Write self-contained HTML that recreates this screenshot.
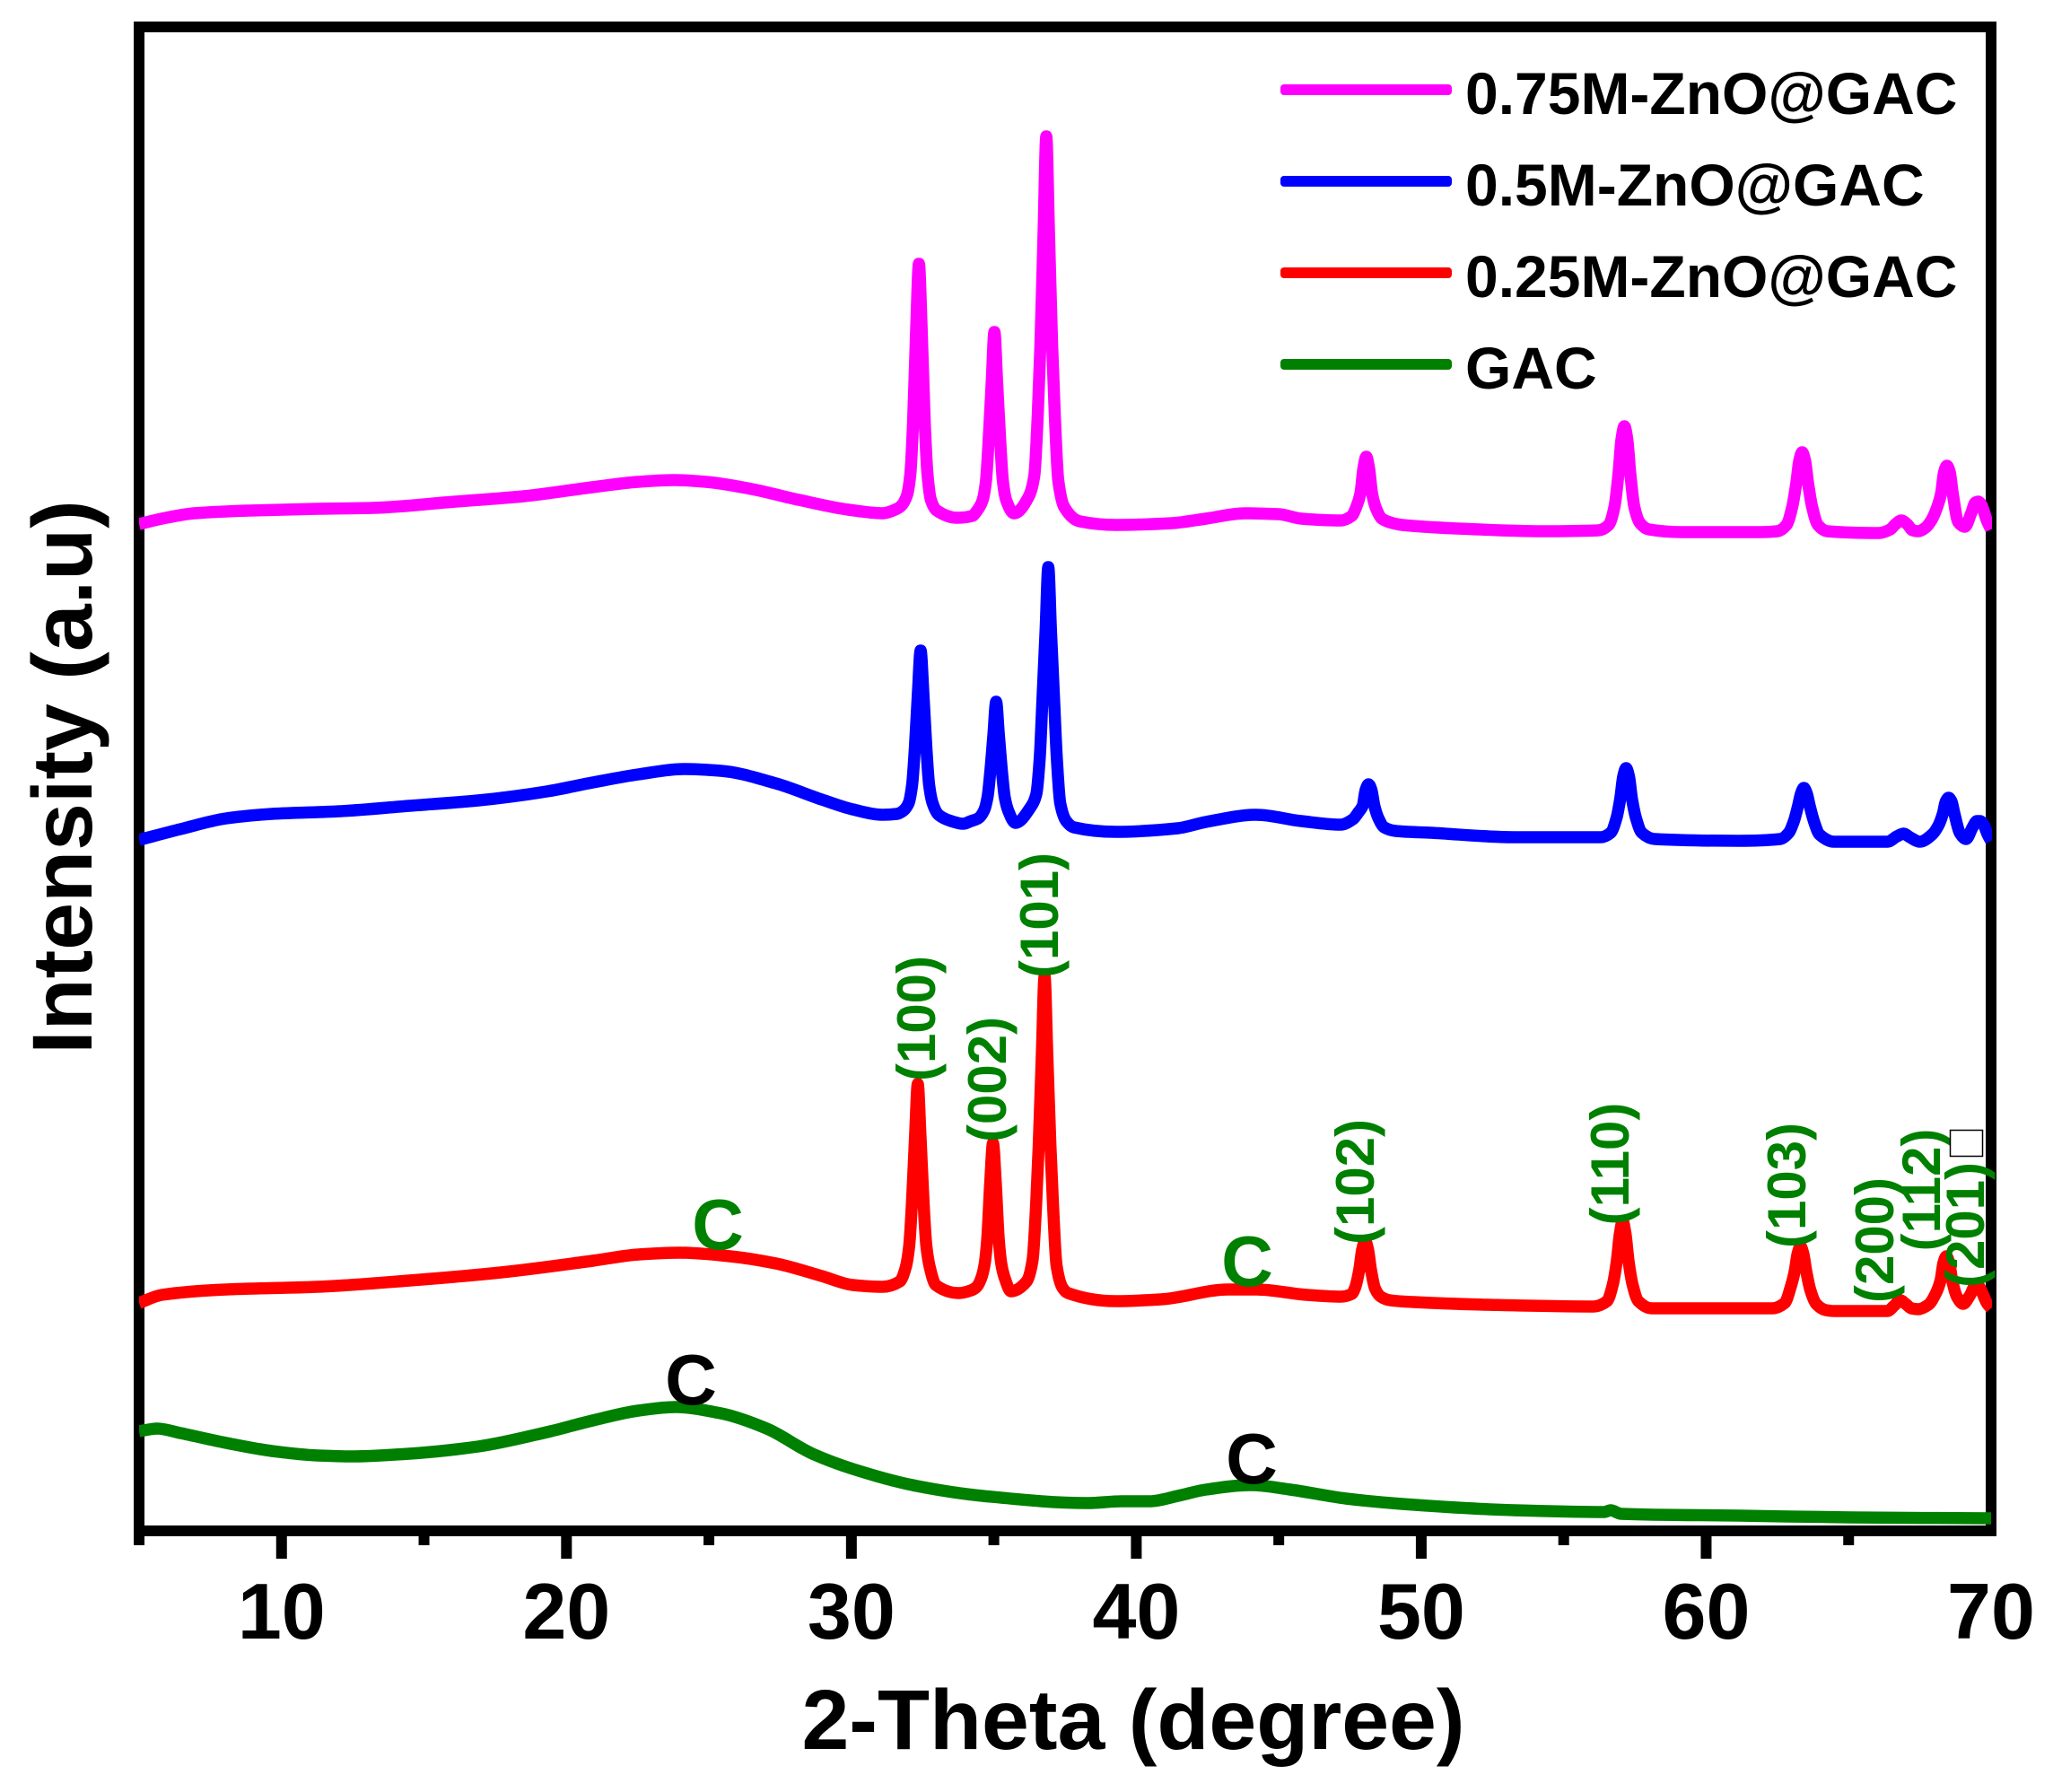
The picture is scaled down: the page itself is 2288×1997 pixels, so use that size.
<!DOCTYPE html>
<html>
<head>
<meta charset="utf-8">
<title>XRD patterns of ZnO@GAC</title>
<style>
html,body{margin:0;padding:0;background:#fff;}
svg{display:block;}
text{font-family:"Liberation Sans",Arial,sans-serif;font-weight:bold;}
</style>
</head>
<body>
<svg id="chart" xmlns="http://www.w3.org/2000/svg" width="2288" height="1997" viewBox="0 0 2288 1997">
  <rect x="0" y="0" width="2288" height="1997" fill="#ffffff"/>
  <defs>
    <clipPath id="plot-clip"><rect x="155" y="24" width="2065" height="1688"/></clipPath>
  </defs>
  <g id="frame" fill="#000">
    <rect x="149" y="24" width="2076" height="12"/>
    <rect x="149" y="24" width="12" height="1688"/>
    <rect x="2213" y="24" width="12" height="1688"/>
    <rect x="149" y="1700" width="2076" height="12"/>
  </g>
  <g id="ticks"></g>
  <g id="series" clip-path="url(#plot-clip)"></g>

  <text x="1263" y="1949" font-size="95" text-anchor="middle" fill="#000">2-Theta (degree)</text>
  <text transform="translate(102,866) rotate(-90)" font-size="95" text-anchor="middle" fill="#000">Intensity (a.u)</text>

  <g>
    <rect x="1427" y="94" width="191" height="12" rx="4" fill="#ff00ff"/>
    <text x="1633" y="127" font-size="66" fill="#000">0.75M-ZnO@GAC</text>
    <rect x="1427" y="196" width="191" height="12" rx="4" fill="#0000ff"/>
    <text x="1633" y="229" font-size="66" fill="#000">0.5M-ZnO@GAC</text>
    <rect x="1427" y="298" width="191" height="12" rx="4" fill="#ff0000"/>
    <text x="1633" y="331" font-size="66" fill="#000">0.25M-ZnO@GAC</text>
    <rect x="1427" y="400" width="191" height="12" rx="4" fill="#008000"/>
    <text x="1633" y="433" font-size="66" fill="#000">GAC</text>
  </g>

  <g id="series-top"></g>

  <g fill="#008000" font-size="60" text-anchor="middle">
    <text transform="translate(1042,1135) rotate(-90)">(100)</text>
    <text transform="translate(1121,1203) rotate(-90)">(002)</text>
    <text transform="translate(1179,1020) rotate(-90)">(101)</text>
    <text transform="translate(1531,1317) rotate(-90)">(102)</text>
    <text transform="translate(1815,1297) rotate(-90)">(110)</text>
    <text transform="translate(2012,1321) rotate(-90)">(103)</text>
    <text transform="translate(2110,1382) rotate(-90)">(200)</text>
    <text transform="translate(2162,1326) rotate(-90)">(112)</text>
    <text transform="translate(2211,1365) rotate(-90)">(201)</text>
  </g>
  <rect x="2173.5" y="1259.5" width="36" height="29" fill="#fff" stroke="#000" stroke-width="1.5"/>
  <text x="800" y="1392" font-size="80" text-anchor="middle" fill="#008000">C</text>
  <text x="1390" y="1433" font-size="80" text-anchor="middle" fill="#008000">C</text>
  <text x="770" y="1565" font-size="80" text-anchor="middle" fill="#000">C</text>
  <text x="1395" y="1653" font-size="80" text-anchor="middle" fill="#000">C</text>
</svg>

<script>
var majorTicks = [10, 20, 30, 40, 50, 60, 70];
var tickLabels = ["10", "20", "30", "40", "50", "60", "70"];
var minorTicks = [5, 15, 25, 35, 45, 55, 65];

var magentaTheta = [5,5.8,6.93,8.86,11.27,13.2,16.1,18.5,20.9,22.5,23.8,24.9,26.5,28.15,29.9,31.09,31.6,
  31.74,31.95,32.07,32.165,32.276,32.37,32.464,32.575,32.67,32.79,33,
  33.71,34.24,
  34.39,34.6,34.72,34.815,34.926,35.02,35.114,35.225,35.32,35.44,35.71,
  36.23,36.42,36.54,36.635,36.746,36.84,36.934,37.045,37.14,37.26,37.47,38.02,39.28,
  41.26,42.44,43.82,45,45.79,47.17,47.56,
  47.72,47.865,47.97,48.07,48.17,48.275,48.42,48.62,49,49.33,
  51.3,54.25,56.22,
  56.58,56.78,56.925,57.03,57.13,57.23,57.335,57.48,57.68,57.99,
  59.17,61.93,62.5,
  62.82,63.02,63.165,63.27,63.37,63.47,63.575,63.72,63.92,64.25,
  66.06,66.46,66.65,66.85,67.05,67.25,67.44,67.7,67.9,
  68.05,68.245,68.35,68.45,68.55,68.655,68.85,69.08,69.3,69.45,69.55,69.65,69.85,70];
var magentaIntensity = [1116,1122,1128,1131,1133,1134,1141,1147,1157,1163,1165,1163,1155,1143,1132,1128,1133,
  1136,1148,1172,1229,1336,1406,1336,1229,1172,1143,1131,
  1123,1125,
  1130,1142,1163,1208,1275,1330,1275,1208,1163,1142,1128,
  1147,1170,1237,1316,1442,1548,1442,1316,1237,1165,1135,1119,1115,
  1117,1122,1128,1127,1122,1120,1125,
  1135,1150,1178,1191,1178,1150,1133,1122,1117,1115,
  1111,1108,1109,
  1115,1135,1173,1211,1225,1211,1173,1135,1117,1110,
  1107,1107,1108,
  1115,1135,1162,1187,1196,1187,1162,1135,1115,1108,
  1106,1110,1116,1120,1116,1109,1108,1112,1120,
  1130,1150,1174,1181,1174,1150,1118,1113,1128,1140,1141,1138,1120,1110];

var blueTheta = [5,6.45,8.06,9.66,12.07,14.49,16.9,19.31,20.92,22.52,24.13,25.42,27.35,28.96,30.05,31.09,
  31.6,31.8,32.01,32.13,32.225,32.336,32.43,32.524,32.635,32.73,32.85,33.06,33.5,33.92,34.2,
  34.45,34.66,34.78,34.875,34.986,35.08,35.174,35.285,35.38,35.5,35.76,
  36.28,36.49,36.61,36.705,36.816,36.91,37.004,37.115,37.21,37.33,37.54,37.81,39.28,
  41.46,42.44,44.21,45.79,47.17,47.6,
  47.8,47.945,48.05,48.15,48.25,48.355,48.5,48.7,49.1,
  50.32,53.27,56.3,
  56.65,56.85,56.985,57.09,57.19,57.29,57.395,57.54,57.74,58.19,
  61.14,62.6,
  62.9,63.08,63.225,63.33,63.43,63.53,63.635,63.78,63.98,64.49,
  66.36,66.7,66.93,67.15,67.5,67.93,
  68.15,68.305,68.41,68.51,68.61,68.715,68.9,69.12,69.35,69.5,69.61,69.72,69.88,70];
var blueIntensity = [764,776,788,793,796,802,808,818,828,837,843,841,827,809,798,792,
  793,796,805,825,865,929,975,929,865,825,805,792,785,782,785,
  788,797,812,840,882,918,882,840,812,797,783,
  800,815,855,920,998,1068,998,920,855,805,785,778,773,
  777,784,792,785,781,787,
  795,802,820,826,820,802,788,778,774,
  772,767,767,
  772,788,810,835,844,835,810,788,772,765,
  763,765,
  772,785,802,816,822,816,802,785,770,762,
  762,768,771,767,762,770,
  780,793,807,811,807,793,772,765,778,785,785,782,770,763];

var redTheta = [5,5.8,8.06,11.27,14.49,17.7,20.92,22.52,23.97,25.74,27.35,28.96,30.05,31.09,
  31.7,31.91,32.03,32.125,32.236,32.33,32.424,32.535,32.63,32.75,32.96,33.77,
  34.2,34.4,34.55,34.67,34.765,34.876,34.97,35.064,35.175,35.27,35.39,35.6,
  36.15,36.36,36.48,36.575,36.686,36.78,36.874,36.985,37.08,37.2,37.41,37.6,39.28,
  40.87,43.23,44.21,45.99,47.17,47.56,
  47.68,47.825,47.93,48.03,48.13,48.235,48.38,48.58,48.9,49.73,
  52.29,56.03,
  56.52,56.72,56.865,56.97,57.07,57.17,57.275,57.42,57.62,58.09,
  62.32,
  62.76,62.96,63.105,63.21,63.31,63.41,63.515,63.66,63.86,64.2,64.49,
  66.36,66.6,66.81,67,67.2,67.44,67.8,
  68.05,68.225,68.33,68.43,68.53,68.635,68.8,69.02,69.25,69.45,69.55,69.65,69.85,70];
var redIntensity = [248,257,263,266,273,282,295,302,304,300,292,278,268,266,
  272,288,312,359,435,492,435,359,312,288,268,259,
  262,266,275,290,318,384,426,384,318,290,275,261,
  272,296,355,424,527,612,527,424,355,290,265,259,250,
  252,263,263,257,255,258,
  265,285,308,317,308,285,264,255,251,249,
  246,244,
  250,268,295,325,339,325,295,268,250,242,
  242,
  248,265,283,303,311,303,283,262,247,240,239,
  239,245,251,247,242,241,246,
  258,273,293,300,293,273,255,247,256,267,267,262,248,242];

var greenTheta = [5,5.64,6.45,8.06,9.66,11.27,12.56,14.49,16.9,19.31,20.92,22.52,23.81,25.42,27.03,28.63,30.05,
  32.3,34.6,38.3,39.49,40.47,41.46,42.44,44.02,45.4,47.36,49.33,53.27,56.42,56.65,57.01,61.14,65.08,70];
var greenIntensity = [105,108,103,92,83,78,77,80,88,104,117,128,132,125,108,80,63,
  44,33,25,27,27,33,40,45,40,30,24,17,15,17,13,11,9,8];

var xDomain = [5, 70];
var xRange = [155, 2219];
var yDomain = [0, 1700];
var yRange = [1700, 0];

function xScale(v) {
  return xRange[0] + (v - xDomain[0]) / (xDomain[1] - xDomain[0]) * (xRange[1] - xRange[0]);
}
function yScale(v) {
  return yRange[0] + (v - yDomain[0]) / (yDomain[1] - yDomain[0]) * (yRange[1] - yRange[0]);
}

var NS = "http://www.w3.org/2000/svg";
var tickGroup = document.getElementById("ticks");
var seriesGroup = document.getElementById("series");
var chart = document.getElementById("chart");

majorTicks.forEach(function (t, i) {
  if (t < xDomain[1]) {
    var tick = document.createElementNS(NS, "rect");
    tick.setAttribute("x", xScale(t) - 6);
    tick.setAttribute("y", 1712);
    tick.setAttribute("width", 12);
    tick.setAttribute("height", 25);
    tick.setAttribute("fill", "#000");
    
    
    tickGroup.appendChild(tick);
  }
  var label = document.createElementNS(NS, "text");
  label.setAttribute("x", xScale(t));
  label.setAttribute("y", 1826);
  label.setAttribute("font-size", "88");
  label.setAttribute("text-anchor", "middle");
  label.setAttribute("fill", "#000");
  
  
  label.textContent = tickLabels[i];
  chart.appendChild(label);
});

minorTicks.forEach(function (t) {
  var tick = document.createElementNS(NS, "rect");
  tick.setAttribute("x", xScale(t) - 6);
  tick.setAttribute("y", 1712);
  tick.setAttribute("width", 12);
  tick.setAttribute("height", 10);
  tick.setAttribute("fill", "#000");
  
  
  tickGroup.appendChild(tick);
});

/* monotone cubic path through the scaled points */
function monotonePath(xs, ys) {
  var n = xs.length, d = [], m = [], i;
  for (i = 0; i < n - 1; i++) {
    d.push((ys[i + 1] - ys[i]) / (xs[i + 1] - xs[i]));
  }
  m[0] = d[0];
  m[n - 1] = d[n - 2];
  for (i = 1; i < n - 1; i++) {
    if (d[i - 1] * d[i] <= 0) {
      m[i] = 0;
    } else {
      var h0 = xs[i] - xs[i - 1], h1 = xs[i + 1] - xs[i];
      m[i] = 3 * (h0 + h1) / ((2 * h1 + h0) / d[i - 1] + (h1 + 2 * h0) / d[i]);
    }
  }
  var path = "M" + xs[0].toFixed(1) + "," + ys[0].toFixed(1);
  for (i = 0; i < n - 1; i++) {
    var h = (xs[i + 1] - xs[i]) / 3;
    path += "C" + (xs[i] + h).toFixed(2) + "," + (ys[i] + m[i] * h).toFixed(2) + " " +
      (xs[i + 1] - h).toFixed(2) + "," + (ys[i + 1] - m[i + 1] * h).toFixed(2) + " " +
      xs[i + 1].toFixed(2) + "," + ys[i + 1].toFixed(2);
  }
  return path;
}

function drawSeries(thetas, intensities, color, name) {
  var line = document.createElementNS(NS, "path");
  line.setAttribute("d", monotonePath(thetas.map(xScale), intensities.map(yScale)));
  line.setAttribute("fill", "none");
  line.setAttribute("stroke", color);
  line.setAttribute("stroke-width", "13.5");
  line.setAttribute("stroke-linejoin", "round");
  line.setAttribute("stroke-linecap", "butt");
  
  
  seriesGroup.appendChild(line);
}

drawSeries(greenTheta, greenIntensity, "#008000", "series-gac");
drawSeries(redTheta, redIntensity, "#ff0000", "series-025m-zno-gac");
drawSeries(blueTheta, blueIntensity, "#0000ff", "series-05m-zno-gac");
drawSeries(magentaTheta, magentaIntensity, "#ff00ff", "series-075m-zno-gac");
</script>
</body>
</html>
